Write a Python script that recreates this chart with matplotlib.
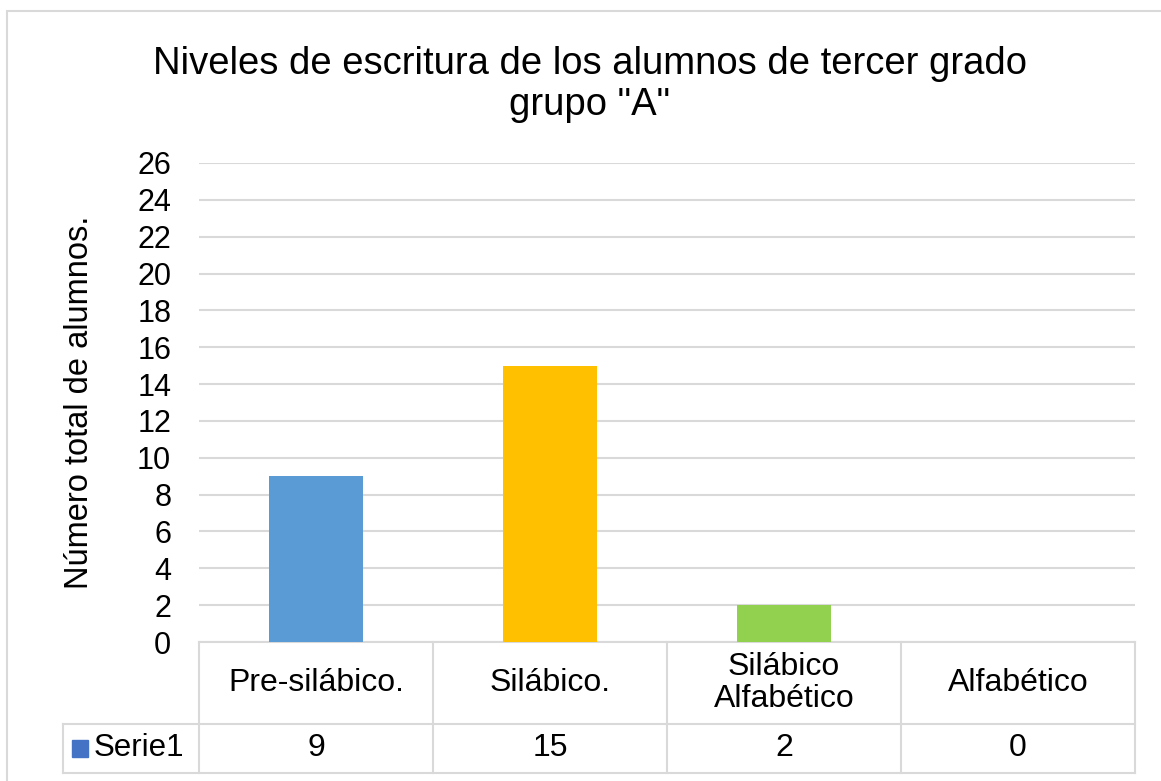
import matplotlib.pyplot as plt
from matplotlib.patches import Rectangle

categorias = ["Pre-silábico.", "Silábico.", "Silábico\nAlfabético", "Alfabético"]
valores = [9, 15, 2, 0]
colores = ["#5B9BD5", "#FFC000", "#92D050", "#A5A5A5"]
serie = "Serie1"
yticks = list(range(0, 27, 2))

plt.rcParams['font.family'] = ['Liberation Sans', 'DejaVu Sans']
grid = "#D9D9D9"

fig = plt.figure(figsize=(11.61, 7.81), dpi=100)
ax = fig.add_axes([199 / 1161, 1 - 642 / 781, 936 / 1161, 479 / 781])

x = list(range(len(categorias)))
ax.bar(x, valores, width=0.40, color=colores, zorder=3)
ax.set_xlim(-0.5, 3.5)
ax.set_ylim(0, 26)
ax.set_yticks(yticks)
ax.tick_params(axis='y', length=0, pad=20, labelsize=22)
ax.set_xticks([])
ax.grid(axis='y', color=grid, linewidth=1.5)
for s in ax.spines.values():
    s.set_visible(False)
ax.set_ylabel("Número total de alumnos.", fontsize=23.5, labelpad=30)

# tabla de datos bajo el eje
tr = ax.get_xaxis_transform()
r1, r2 = -0.171, -0.2735
xl = -1.081
kw = dict(color=grid, lw=1.5, transform=tr, clip_on=False)
ax.plot([-0.5, 3.5], [0, 0], **kw)
ax.plot([xl, 3.5], [r1, r1], **kw)
ax.plot([xl, 3.5], [r2, r2], **kw)
ax.plot([xl, xl], [r1, r2], **kw)
for c in [-0.5, 0.5, 1.5, 2.5, 3.5]:
    ax.plot([c, c], [0, r2], **kw)

for i, cat in enumerate(categorias):
    ax.text(i, r1 / 2, cat, transform=tr, ha='center', va='center',
            fontsize=23, linespacing=1.1)
    ax.text(i, (r1 + r2) / 2, str(valores[i]), transform=tr,
            ha='center', va='center', fontsize=23)

ax.add_patch(Rectangle((xl + 0.04, (r1 + r2) / 2 - 0.018), 0.065, 0.036,
                       transform=tr, color="#4472C4", clip_on=False))
ax.text(xl + 0.13, (r1 + r2) / 2, serie, transform=tr, ha='left',
        va='center', fontsize=22.5)

fig.text(0.508, 0.892, 'Niveles de escritura de los alumnos de tercer grado\ngrupo "A"',
         ha='center', va='center', fontsize=27.5, linespacing=1.18)

fig.patches.append(Rectangle((7 / 1161, -0.05), 1.2, 1.05 - 11 / 781,
                             transform=fig.transFigure, fill=False,
                             edgecolor=grid, lw=1.5))

fig.savefig("out.png", dpi=100)
